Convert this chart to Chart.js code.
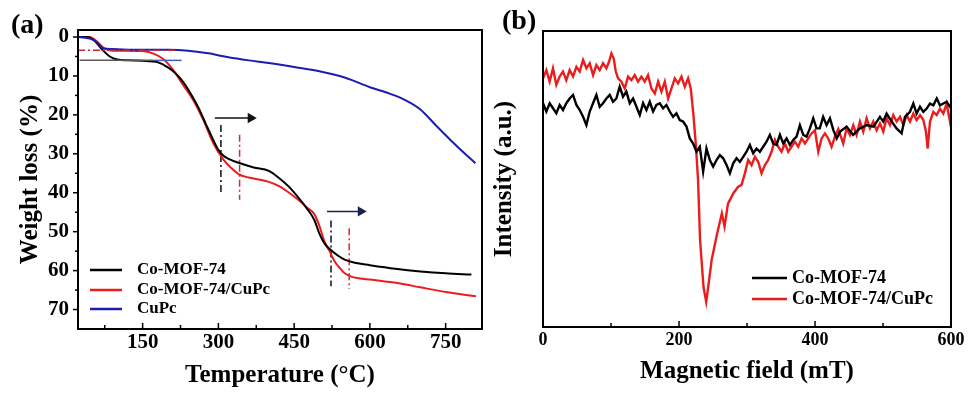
<!DOCTYPE html>
<html><head><meta charset="utf-8">
<script src="https://cdn.jsdelivr.net/npm/chart.js@4"></script>
<style>
html,body{margin:0;padding:0;background:#fff;width:969px;height:397px;overflow:hidden}
#wa{position:absolute;left:0;top:0;width:490px;height:397px}
#wb{position:absolute;left:490px;top:0;width:479px;height:397px}
</style></head><body>
<div id="wa"><canvas id="ca"></canvas></div>
<div id="wb"><canvas id="cb"></canvas></div>
<script>
// ---------- Panel (a): TGA ----------
const tempCoMof = [22,40,55,70,85,100,120,150,180,200,215,230,245,260,275,290,300,310,320,340,370,400,420,440,460,475,490,500,510,520,535,550,570,600,650,700,750,801];
const lossCoMof = [0,0,1.0,3.2,5.0,5.8,6.0,6.1,6.5,7.8,9.3,11.5,14.5,18.0,22.3,26.5,29.0,30.5,31.3,32.3,33.5,34.4,36.2,38.5,41.5,44.0,47.0,50.5,53.0,54.4,56.0,57.2,58.0,58.6,59.5,60.2,60.7,61.0];
const tempCoMofCuPc = [22,45,60,75,90,110,150,170,190,210,230,250,270,290,310,325,340,360,380,400,420,440,460,475,490,500,510,520,530,540,550,565,580,600,630,660,700,750,810];
const lossCoMofCuPc = [0,0,1.2,3.0,3.5,3.5,3.6,4.2,5.6,8.4,12.3,16.2,21.3,27.3,31.5,33.6,35.2,36.1,36.6,37.2,38.3,40.0,42.0,43.8,45.5,48.5,52.5,55.0,57.6,59.3,60.7,61.6,62.0,62.3,62.8,63.3,64.3,65.5,66.6];
const tempCuPc = [22,36,50,60,72,90,110,150,200,240,280,320,360,400,450,500,550,600,640,670,700,730,760,790,809];
const lossCuPc = [0,0.2,0.6,1.4,2.9,3.1,3.2,3.3,3.3,3.5,4.2,5.2,6.0,6.7,7.7,8.8,10.4,12.9,14.6,16.2,18.6,22.6,26.5,30.2,32.4];
const tempMajorTicks = [150,300,450,600,750];
const tempMinorTicks = [75,225,375,525,675];
const lossMajorTicks = [0,10,20,30,40,50,60,70];
const lossMinorTicks = [5,15,25,35,45,55,65];
// guide marks
const plateauGrayT = [25,170], plateauGrayW = [6.0,6.0];
const plateauBlueT = [170,227], plateauBlueW = [6.0,6.0];
const plateauRedT = [22,215], plateauRedW = [3.4,3.4];
const vBlack1T = [305,305], vBlack1W = [22.6,39.9];
const vRed1T = [342,342], vRed1W = [25.1,41.8];
const arrow1T = [293,364], arrow1W = [20.8,20.8];
const vBlack2T = [523,523], vBlack2W = [47.1,64.0];
const vRed2T = [559,559], vRed2W = [49.1,64.7];
const arrow2T = [515,582], arrow2W = [44.8,44.8];

// ---------- Panel (b): EPR ----------
const fieldCoMof = [0,4.9,9.8,14.7,19.6,24.5,29.4,34.3,39.2,44.2,49.1,54,58.9,63.8,68.7,73.6,78.5,83.4,88.3,93.2,98.1,103,107.9,112.8,117.7,122.6,127.6,132.5,137.4,142.3,147.2,152.1,157,161.9,166.8,171.7,176.6,181.5,186.4,191.3,196.2,201.1,206,211,
  215.9,220.8,225.7,230.6,235.5,240.4,245.3,250.2,255.2,260.1,265,269.9,274.8,279.7,284.6,289.5,294.4,299.3,304.2,309.1,314,318.9,323.8,328.7,333.6,338.6,343.5,348.4,353.3,358.2,363.1,368,372.9,377.8,382.7,387.6,392.5,397.4,402.3,
  407,412,417,422,427,432,437,446.5,456,466,476,486,495.5,500.4,505.3,512.7,520,527.4,532.3,539.7,544.6,549.5,554.4,559.3,564.2,569.1,574,579,583.8,588.7,593.6,598.5,600];
const intCoMof = [75.6,72.8,75.6,73.9,72.2,75,73.3,75.6,77.2,78.4,75,73.3,71,68.2,72.8,75.6,78.4,74.4,75.6,77.2,78.4,76.1,77.2,81.2,77.8,79.5,75.6,77.2,74.4,71.6,75.6,73.3,76.1,72.8,75,75.6,73.9,75,72.8,71,72.2,69.9,69.4,67.7,
  63.7,62,59.2,60.9,52.5,60.3,56.4,54.2,56.4,58.1,57,54.7,51.9,55.3,57,55.8,57.5,59.2,61.5,58.7,60.3,59.2,60.9,62.6,64.9,62,61.5,64.9,62,63.7,61.5,63.2,64.3,68.2,64.9,64.3,67.1,70.5,67.1,
  67.1,71,68.2,70.5,66.5,63.7,66,67.7,64.9,67.1,68.2,67.7,71,69.4,72.1,69.4,67.1,65.4,71,72.7,75.5,72.1,74.4,72.7,73.8,75.5,74.9,77.2,74.9,75.5,76.1,74.4,75];
const fieldCoMofCuPc = [0,4.9,9.8,14.7,19.6,24.5,29.4,34.3,39.2,44.2,49.1,54,58.9,63.8,68.7,73.6,78.5,83.4,88.3,93.2,97.1,100.6,104,107,110.4,115.3,120.2,125.1,130,134.9,139.8,144.7,149.6,154.5,159.4,164.4,169.3,174.2,179.1,184,188.9,193.8,198.7,203.6,208.5,213.4,217.3,
  221,225,228,231,236,240,243,248,255,263,267,272,280,287,
  292,296.9,301.8,306.7,311.6,316.5,321.4,326.3,331.2,336.1,341,345.9,350.8,355.7,360.6,365.5,370.4,375.3,380.3,385.2,390.1,395,399.9,404.8,409.7,414.6,419.5,424.4,429.3,434.2,
  441.5,446.4,451.4,456.3,461.2,466.1,471,475.9,480.8,485.7,490.6,495.5,500.4,505.3,510.2,515.1,520,525,529.9,534.8,539.7,544.6,549.5,554.4,559.3,563.2,565.7,569.1,574,579,583.8,588.7,593.6,598.5,600];
const intCoMofCuPc = [84,86.8,82.9,87.4,81.8,84.6,86.3,83.4,86.8,84.6,87.9,86.3,90.2,87.4,89.1,85.1,88.5,86.8,89.1,87.4,89.6,92.4,90.7,86.3,84,82.9,80.6,84.6,83.4,85.1,82.9,84.6,82.9,85.1,80.6,78.9,82.9,79.5,82.9,77.2,80.6,84,82.3,84.6,81.2,84,80.6,
  72.2,60.9,49.7,29.4,13.6,8.5,13.6,22.6,30.4,38.4,33.9,41.7,45.2,47.4,
  48,51.9,56.4,54.7,57.5,55.8,51.9,54.7,56.4,59.2,63.2,60.9,59.2,62,59.2,60.9,62.6,60.9,63.7,62,63.7,65.4,66.5,59.2,63.7,65.4,63.7,60.9,64.3,66.9,
  62,67.1,64.9,68.2,64.9,69.4,66,70.5,67.1,69.4,66.5,68.8,66,70.5,68.2,71.6,69.4,71,68.2,71.6,69.4,72.1,69.9,71.6,69.9,66,60.3,69.4,72.7,71.6,73.8,72.1,75.5,69.4,72];
const fieldMajorTicks = [0,200,400,600];
const fieldMinorTicks = [100,300,500];

const FF = '"Times New Roman","Liberation Serif",serif';
const RED = '#ec1c1c', BLUE = '#1c1cb0', BLACK = '#000';
const pts = (xs, ys) => xs.map((x, i) => ({x, y: ys[i]}));

const framePlugin = {
  id: 'frame',
  afterDraw(chart, args, o) {
    const {ctx, chartArea: a, scales} = chart;
    ctx.save();
    ctx.strokeStyle = '#000';
    ctx.lineWidth = 2;
    ctx.strokeRect(a.left, a.top, a.right - a.left, a.bottom - a.top);
    ctx.lineWidth = 1.5;
    const xs = scales.x, ys = scales.y;
    const tick = (x1, y1, x2, y2) => { ctx.beginPath(); ctx.moveTo(x1, y1); ctx.lineTo(x2, y2); ctx.stroke(); };
    (o.xMajor || []).forEach(v => { const p = xs.getPixelForValue(v); tick(p, a.bottom, p, a.bottom - 6); });
    (o.xMinor || []).forEach(v => { const p = xs.getPixelForValue(v); tick(p, a.bottom, p, a.bottom - 4); });
    (o.yMajor || []).forEach(v => { const p = ys.getPixelForValue(v); tick(a.left, p, a.left - 5, p); });
    (o.yMinor || []).forEach(v => { const p = ys.getPixelForValue(v); tick(a.left, p, a.left - 3, p); });
    if (o.label) {
      ctx.fillStyle = '#000';
      ctx.font = 'bold 28px ' + FF;
      ctx.textBaseline = 'middle';
      ctx.textAlign = 'left';
      ctx.fillText(o.label.text, o.label.x, o.label.y);
    }
    if (o.legend) {
      const L = o.legend;
      ctx.font = 'bold ' + L.size + 'px ' + FF;
      ctx.textBaseline = 'middle';
      ctx.textAlign = 'left';
      L.items.forEach((it, i) => {
        const y = L.ys[i];
        ctx.strokeStyle = it.color; ctx.lineWidth = 2.5;
        tick(L.x0, y, L.x1, y);
        ctx.fillStyle = '#000';
        ctx.fillText(it.text, L.tx, y);
      });
    }
    ctx.restore();
  }
};

const tickFont = s => ({family: FF, size: s, weight: 'bold'});
const lineDs = (data, color, w, extra) => Object.assign({data, borderColor: color, backgroundColor: color, borderWidth: w, pointRadius: 0, fill: false}, extra || {});
const dashDot = [7, 3, 2, 3];

new Chart(document.getElementById('ca'), {
  type: 'line',
  data: { datasets: [
    lineDs(pts(plateauGrayT, plateauGrayW), '#5a5a5a', 1.5),
    lineDs(pts(plateauBlueT, plateauBlueW), '#4a5ab8', 1.5),
    lineDs(pts(plateauRedT, plateauRedW), '#c8283c', 1.5, {borderDash: dashDot}),
    lineDs(pts(tempCuPc, lossCuPc), BLUE, 2, {cubicInterpolationMode: 'monotone'}),
    lineDs(pts(tempCoMof, lossCoMof), BLACK, 2, {cubicInterpolationMode: 'monotone'}),
    lineDs(pts(tempCoMofCuPc, lossCoMofCuPc), RED, 2, {cubicInterpolationMode: 'monotone'}),
    lineDs(pts(vBlack1T, vBlack1W), '#111', 1.5, {borderDash: dashDot}),
    lineDs(pts(vRed1T, vRed1W), '#d8283a', 1.5, {borderDash: dashDot}),
    lineDs(pts(arrow1T, arrow1W), '#111', 1.5, {pointRadius: [0, 4.5], pointStyle: 'triangle', rotation: 90}),
    lineDs(pts(vBlack2T, vBlack2W), '#111', 1.5, {borderDash: dashDot}),
    lineDs(pts(vRed2T, vRed2W), '#d8283a', 1.5, {borderDash: dashDot}),
    lineDs(pts(arrow2T, arrow2W), '#1a2050', 1.5, {pointRadius: [0, 4.5], pointStyle: 'triangle', rotation: 90})
  ]},
  options: {
    responsive: true, maintainAspectRatio: false, animation: false,
    layout: {padding: {top: 30, right: 8, left: 0, bottom: 0}},
    plugins: {
      legend: {display: false}, tooltip: {enabled: false},
      frame: {
        xMajor: tempMajorTicks, xMinor: tempMinorTicks, yMajor: lossMajorTicks, yMinor: lossMinorTicks,
        label: {text: '(a)', x: 11, y: 26},
        legend: {size: 17, x0: 90, x1: 122, tx: 137, ys: [270, 290, 309],
          items: [{text: 'Co-MOF-74', color: BLACK}, {text: 'Co-MOF-74/CuPc', color: RED}, {text: 'CuPc', color: BLUE}]}
      }
    },
    scales: {
      x: {
        type: 'linear', min: 22, max: 822,
        afterFit: s => { s.height = 68; },
        afterBuildTicks: s => { s.ticks = tempMajorTicks.map(v => ({value: v})); },
        grid: {display: false, drawTicks: false}, border: {display: false},
        ticks: {font: tickFont(21), color: '#000', padding: 1, autoSkip: false, maxRotation: 0},
        title: {display: true, text: 'Temperature (°C)', font: {family: FF, size: 25, weight: 'bold'}, color: '#000', padding: {top: 0, bottom: 6}}
      },
      y: {
        type: 'linear', reverse: true, min: -1.8, max: 75,
        afterFit: s => { s.width = 78; },
        afterBuildTicks: s => { s.ticks = lossMajorTicks.map(v => ({value: v})); },
        grid: {display: false, drawTicks: false}, border: {display: false},
        ticks: {font: tickFont(21), color: '#000', padding: 9, autoSkip: false},
        title: {display: true, text: 'Weight loss (%)', font: {family: FF, size: 25, weight: 'bold'}, color: '#000', padding: {top: 16, bottom: 0}}
      }
    }
  },
  plugins: [framePlugin]
});

new Chart(document.getElementById('cb'), {
  type: 'line',
  data: { datasets: [
    lineDs(pts(fieldCoMof, intCoMof), BLACK, 2.4),
    lineDs(pts(fieldCoMofCuPc, intCoMofCuPc), RED, 2.4)
  ]},
  options: {
    responsive: true, maintainAspectRatio: false, animation: false,
    layout: {padding: {top: 31, right: 18, left: 0, bottom: 0}},
    plugins: {
      legend: {display: false}, tooltip: {enabled: false},
      frame: {
        xMajor: fieldMajorTicks, xMinor: fieldMinorTicks,
        label: {text: '(b)', x: 12, y: 22},
        legend: {size: 18, x0: 262, x1: 297, tx: 302, ys: [278, 299],
          items: [{text: 'Co-MOF-74', color: BLACK}, {text: 'Co-MOF-74/CuPc', color: RED}]}
      }
    },
    scales: {
      x: {
        type: 'linear', min: 0, max: 600,
        afterFit: s => { s.height = 70; },
        afterBuildTicks: s => { s.ticks = fieldMajorTicks.map(v => ({value: v})); },
        grid: {display: false, drawTicks: false}, border: {display: false},
        ticks: {font: tickFont(18), color: '#000', padding: 3, autoSkip: false, maxRotation: 0},
        title: {display: true, text: 'Magnetic field (mT)', font: {family: FF, size: 25, weight: 'bold'}, color: '#000', padding: {top: 0, bottom: 10}}
      },
      y: {
        type: 'linear', min: 0, max: 100,
        afterFit: s => { s.width = 53; },
        grid: {display: false, drawTicks: false}, border: {display: false},
        ticks: {display: false},
        title: {display: true, text: 'Intensity (a.u.)', font: {family: FF, size: 25, weight: 'bold'}, color: '#000', padding: {top: 0, bottom: 0}}
      }
    }
  },
  plugins: [framePlugin]
});
</script>
</body></html>
